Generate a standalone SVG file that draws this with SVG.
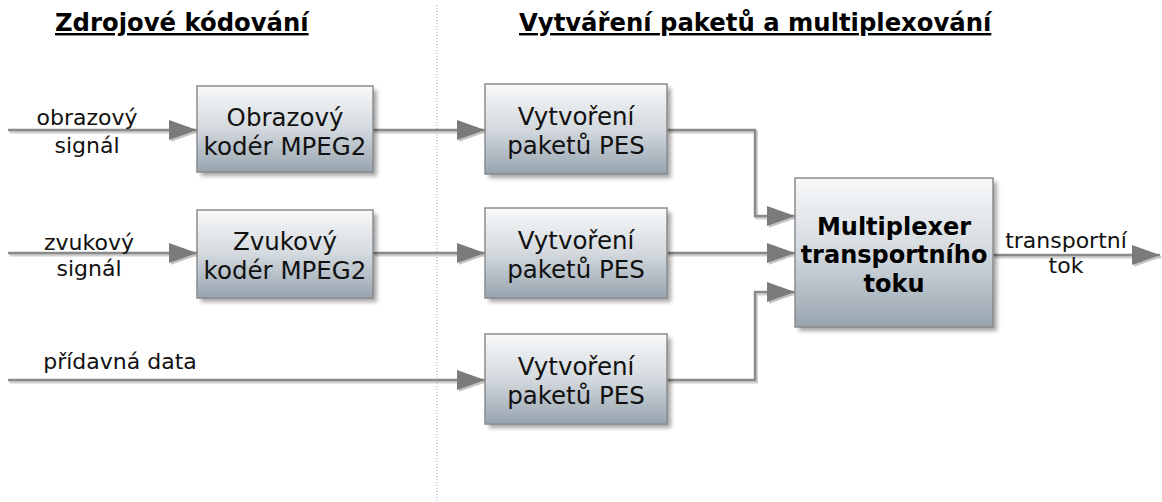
<svg xmlns="http://www.w3.org/2000/svg" width="1162" height="502" viewBox="0 0 1162 502">
<style>
.box{fill:url(#g);stroke:#8c8c8c;stroke-width:1.5}
.sh{fill:#000;opacity:0.35;filter:url(#blur)}
.t{font-family:"DejaVu Sans",Verdana,sans-serif;font-size:24.5px;fill:#111;text-anchor:middle}
.tb{font-family:"DejaVu Sans",Verdana,sans-serif;font-size:24px;font-weight:bold;fill:#000;text-anchor:middle}
.lbl{font-family:"DejaVu Sans",Verdana,sans-serif;font-size:22px;fill:#111;text-anchor:middle}
.title{font-family:"DejaVu Sans",Verdana,sans-serif;font-size:24.3px;font-weight:bold;fill:#000;text-decoration:underline}
.ln{fill:none;stroke:#8a8a8a;stroke-width:2.5}
.lns{fill:none;stroke:#cfcfcf;stroke-width:3}
</style>
<defs>
<linearGradient id="g" x1="0" y1="0" x2="0" y2="1">
<stop offset="0" stop-color="#f8f9fa"/>
<stop offset="0.5" stop-color="#d3d9de"/>
<stop offset="1" stop-color="#97a4af"/>
</linearGradient>
<filter id="blur" x="-10%" y="-10%" width="130%" height="130%"><feGaussianBlur stdDeviation="2"/></filter>
<marker id="ah" viewBox="0 0 28 20" refX="28" refY="10" markerWidth="28" markerHeight="20" markerUnits="userSpaceOnUse" orient="auto">
<path d="M0,0 L28,10 L0,20 Z" fill="#7b7b7b"/>
</marker>
<marker id="ahs" viewBox="0 0 28 20" refX="28" refY="10" markerWidth="28" markerHeight="20" markerUnits="userSpaceOnUse" orient="auto">
<path d="M0,0 L28,10 L0,20 Z" fill="#c4c4c4"/>
</marker>
</defs>

<line x1="437" y1="5" x2="437" y2="502" stroke="#9aa3b0" stroke-width="1" stroke-dasharray="1,2"/>

<text class="title" x="55" y="31">Zdrojové kódování</text>
<text class="title" x="519" y="31">Vytváření paketů a multiplexování</text>

<g id="connectors">
<g transform="translate(1.5,2)">
<path class="lns" d="M8,130 H197" marker-end="url(#ahs)"/>
<path class="lns" d="M8,253 H197" marker-end="url(#ahs)"/>
<path class="lns" d="M8,380 H485" marker-end="url(#ahs)"/>
<path class="lns" d="M373,130 H485" marker-end="url(#ahs)"/>
<path class="lns" d="M373,253 H485" marker-end="url(#ahs)"/>
<path class="lns" d="M667,130 H755 V216 H795" marker-end="url(#ahs)"/>
<path class="lns" d="M667,253 H795" marker-end="url(#ahs)"/>
<path class="lns" d="M667,380 H755 V292 H795" marker-end="url(#ahs)"/>
<path class="lns" d="M993,255 H1160" marker-end="url(#ahs)"/>
</g>
<path class="ln" d="M8,130 H197" marker-end="url(#ah)"/>
<path class="ln" d="M8,253 H197" marker-end="url(#ah)"/>
<path class="ln" d="M8,380 H485" marker-end="url(#ah)"/>
<path class="ln" d="M373,130 H485" marker-end="url(#ah)"/>
<path class="ln" d="M373,253 H485" marker-end="url(#ah)"/>
<path class="ln" d="M667,130 H755 V216 H795" marker-end="url(#ah)"/>
<path class="ln" d="M667,253 H795" marker-end="url(#ah)"/>
<path class="ln" d="M667,380 H755 V292 H795" marker-end="url(#ah)"/>
<path class="ln" d="M993,255 H1160" marker-end="url(#ah)"/>
<text class="lbl" x="87" y="125">obrazový</text>
<text class="lbl" x="87" y="153">signál</text>
<text class="lbl" x="89" y="250">zvukový</text>
<text class="lbl" x="89" y="276">signál</text>
<text class="lbl" x="120" y="369">přídavná data</text>
<text class="lbl" x="1066" y="248">transportní</text>
<text class="lbl" x="1066" y="273">tok</text>
</g>

<g id="node-obrazovy">
<rect class="sh" x="201" y="90" width="176" height="86"/>
<rect class="box" x="197" y="86" width="176" height="86"/>
<text class="t" x="285" y="126">Obrazový</text>
<text class="t" x="285" y="155">kodér MPEG2</text>
</g>
<g id="node-zvukovy">
<rect class="sh" x="201" y="214" width="176" height="88"/>
<rect class="box" x="197" y="210" width="176" height="88"/>
<text class="t" x="285" y="250">Zvukový</text>
<text class="t" x="285" y="279">kodér MPEG2</text>
</g>
<g id="node-pes1">
<rect class="sh" x="489" y="88" width="182" height="90"/>
<rect class="box" x="485" y="84" width="182" height="90"/>
<text class="t" x="576" y="125">Vytvoření</text>
<text class="t" x="576" y="154">paketů PES</text>
</g>
<g id="node-pes2">
<rect class="sh" x="489" y="212" width="182" height="90"/>
<rect class="box" x="485" y="208" width="182" height="90"/>
<text class="t" x="576" y="249">Vytvoření</text>
<text class="t" x="576" y="278">paketů PES</text>
</g>
<g id="node-pes3">
<rect class="sh" x="489" y="338" width="182" height="90"/>
<rect class="box" x="485" y="334" width="182" height="90"/>
<text class="t" x="576" y="375">Vytvoření</text>
<text class="t" x="576" y="404">paketů PES</text>
</g>
<g id="node-mux">
<rect class="sh" x="799" y="182" width="198" height="149"/>
<rect class="box" x="795" y="178" width="198" height="149"/>
<text class="tb" x="894" y="235">Multiplexer</text>
<text class="tb" x="894" y="263">transportního</text>
<text class="tb" x="894" y="292">toku</text>
</g>
</svg>
